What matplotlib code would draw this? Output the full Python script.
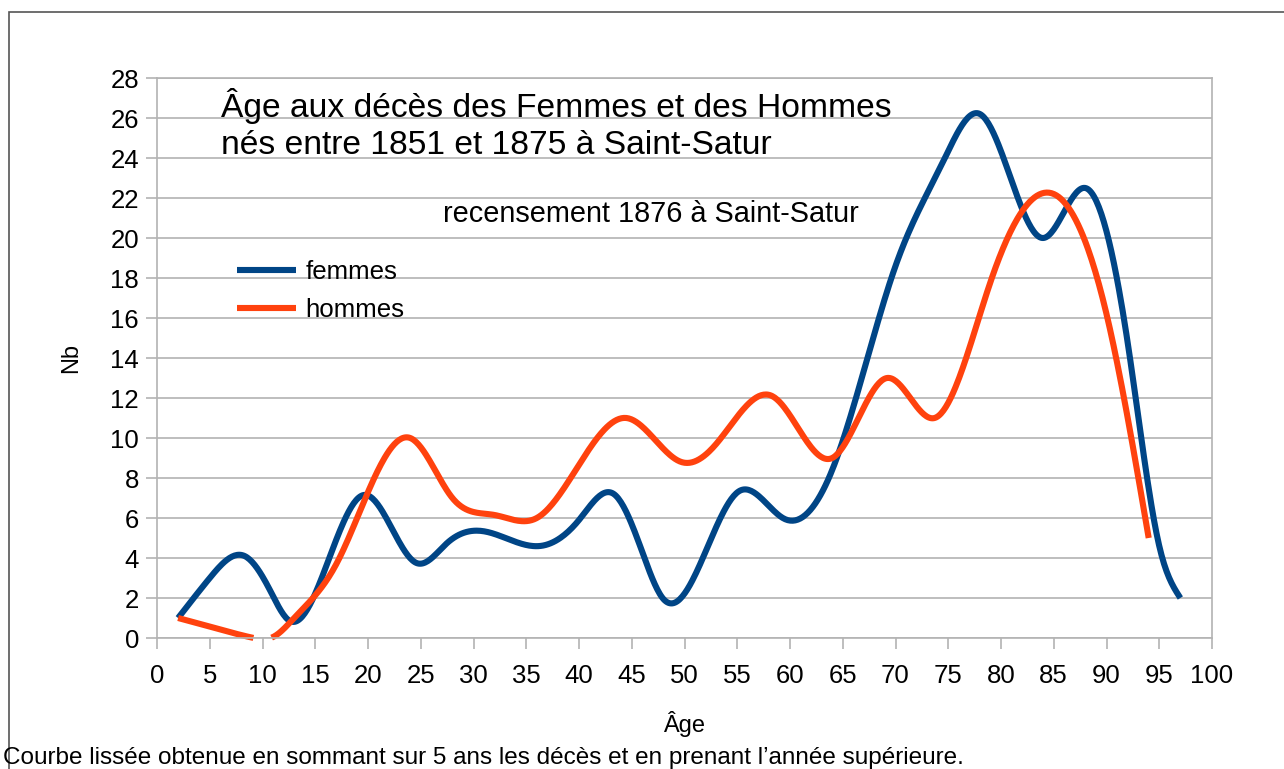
import numpy as np
import matplotlib
matplotlib.use("Agg")
import matplotlib.pyplot as plt
from matplotlib.patches import Rectangle

plt.rcParams['font.family'] = ['Liberation Sans', 'DejaVu Sans']

# points (age, number of deaths, 5-year sums)
femmes_age = [2, 5, 8.3, 10.7, 12.6, 19.6, 24.6, 27.5, 30.8, 36.3, 40, 43.3, 46, 48, 55.2, 59.5, 64, 70, 74.5, 78, 84, 88, 92, 95, 97]
femmes_nb = [1, 3.0, 4.1, 2.4, 0.85, 7.15, 3.75, 4.75, 5.35, 4.6, 5.9, 7.2, 4.3, 1.95, 7.35, 5.95, 8.4, 18.6, 23.8, 26.2, 20.0, 22.5, 14.8, 4.6, 2]

hommes_age = [2, 5.5, 9, 11, 13, 17, 24, 28, 32, 36, 44.5, 49.7, 53, 58.3, 64, 69.2, 73.7, 79, 85, 90, 94]
hommes_nb = [1, 0.5, 0.02, 0.05, 1.0, 3.7, 10.0, 7.0, 6.15, 6.0, 11.0, 8.8, 9.7, 12.1, 9.0, 13.0, 11.0, 17.8, 22.2, 16.2, 5.0]

x_ticks = list(range(0, 101, 5))
y_ticks = list(range(0, 29, 2))

BLEU = "#004586"
ORANGE = "#ff420e"
GRIS = "#b3b3b3"


def spline_naturelle(x, y, xs):
    x = np.asarray(x, float)
    y = np.asarray(y, float)
    n = len(x)
    h = np.diff(x)
    A = np.zeros((n, n))
    b = np.zeros(n)
    A[0, 0] = 1
    A[-1, -1] = 1
    for i in range(1, n - 1):
        A[i, i - 1] = h[i - 1]
        A[i, i] = 2 * (h[i - 1] + h[i])
        A[i, i + 1] = h[i]
        b[i] = 6 * ((y[i + 1] - y[i]) / h[i] - (y[i] - y[i - 1]) / h[i - 1])
    M = np.linalg.solve(A, b)
    k = np.clip(np.searchsorted(x, xs) - 1, 0, n - 2)
    t0 = xs - x[k]
    t1 = x[k + 1] - xs
    hk = h[k]
    return (M[k] * t1 ** 3 / (6 * hk) + M[k + 1] * t0 ** 3 / (6 * hk)
            + (y[k] / hk - M[k] * hk / 6) * t1 + (y[k + 1] / hk - M[k + 1] * hk / 6) * t0)


fig = plt.figure(figsize=(12.84, 7.69), dpi=100)
ax = fig.add_axes([157 / 1284, 1 - 638 / 769, 1055 / 1284, 560 / 769])

for ages, nb, couleur, nom in [(femmes_age, femmes_nb, BLEU, "femmes"),
                               (hommes_age, hommes_nb, ORANGE, "hommes")]:
    xs = np.linspace(ages[0], ages[-1], 800)
    ys = spline_naturelle(ages, nb, xs)
    ys = np.where(ys < 0, np.nan, ys)
    ax.plot(xs, ys, color=couleur, lw=4.4, solid_capstyle="butt", clip_on=False, label=nom)

ax.set_xlim(0, 100)
ax.set_ylim(0, 28)
ax.set_xticks(x_ticks)
ax.set_yticks(y_ticks)
ax.tick_params(labelsize=18.5, color=GRIS, length=8, width=1.2, pad=5)
ax.tick_params(axis="x", pad=11)
ax.grid(axis="y", color=GRIS, lw=1.2)
ax.set_axisbelow(True)
for s in ax.spines.values():
    s.set_color(GRIS)
    s.set_linewidth(1.2)

ax.set_ylabel("Nb", fontsize=17, labelpad=20)
ax.set_xlabel("Âge", fontsize=17, labelpad=16)

W, H = 1284, 769


def px(x, y):
    return x / W, 1 - y / H


fig.text(*px(221, 117), "Âge aux décès des Femmes et des Hommes", fontsize=24.2, va="baseline")
fig.text(*px(221, 154), "nés entre 1851 et 1875 à Saint-Satur", fontsize=24.2, va="baseline")
fig.text(*px(443, 222), "recensement 1876 à Saint-Satur", fontsize=20.8, va="baseline")

ax.legend(loc="upper left", bbox_to_anchor=((237 - 157) / 1055, (638 - 260) / 560),
          frameon=False, fontsize=18.6, handlelength=2.3, handletextpad=0.35,
          borderpad=0, borderaxespad=0, labelspacing=0.55)

fig.text(*px(3, 764), "Courbe lissée obtenue en sommant sur 5 ans les décès et en prenant l’année supérieure.",
         fontsize=17.5, va="baseline")

fig.patches.append(Rectangle(px(9, 800), 1.1, 800 / H - 11.5 / H, transform=fig.transFigure,
                             fill=False, edgecolor="#555555", lw=1.2))

fig.savefig("out.png", dpi=100)
